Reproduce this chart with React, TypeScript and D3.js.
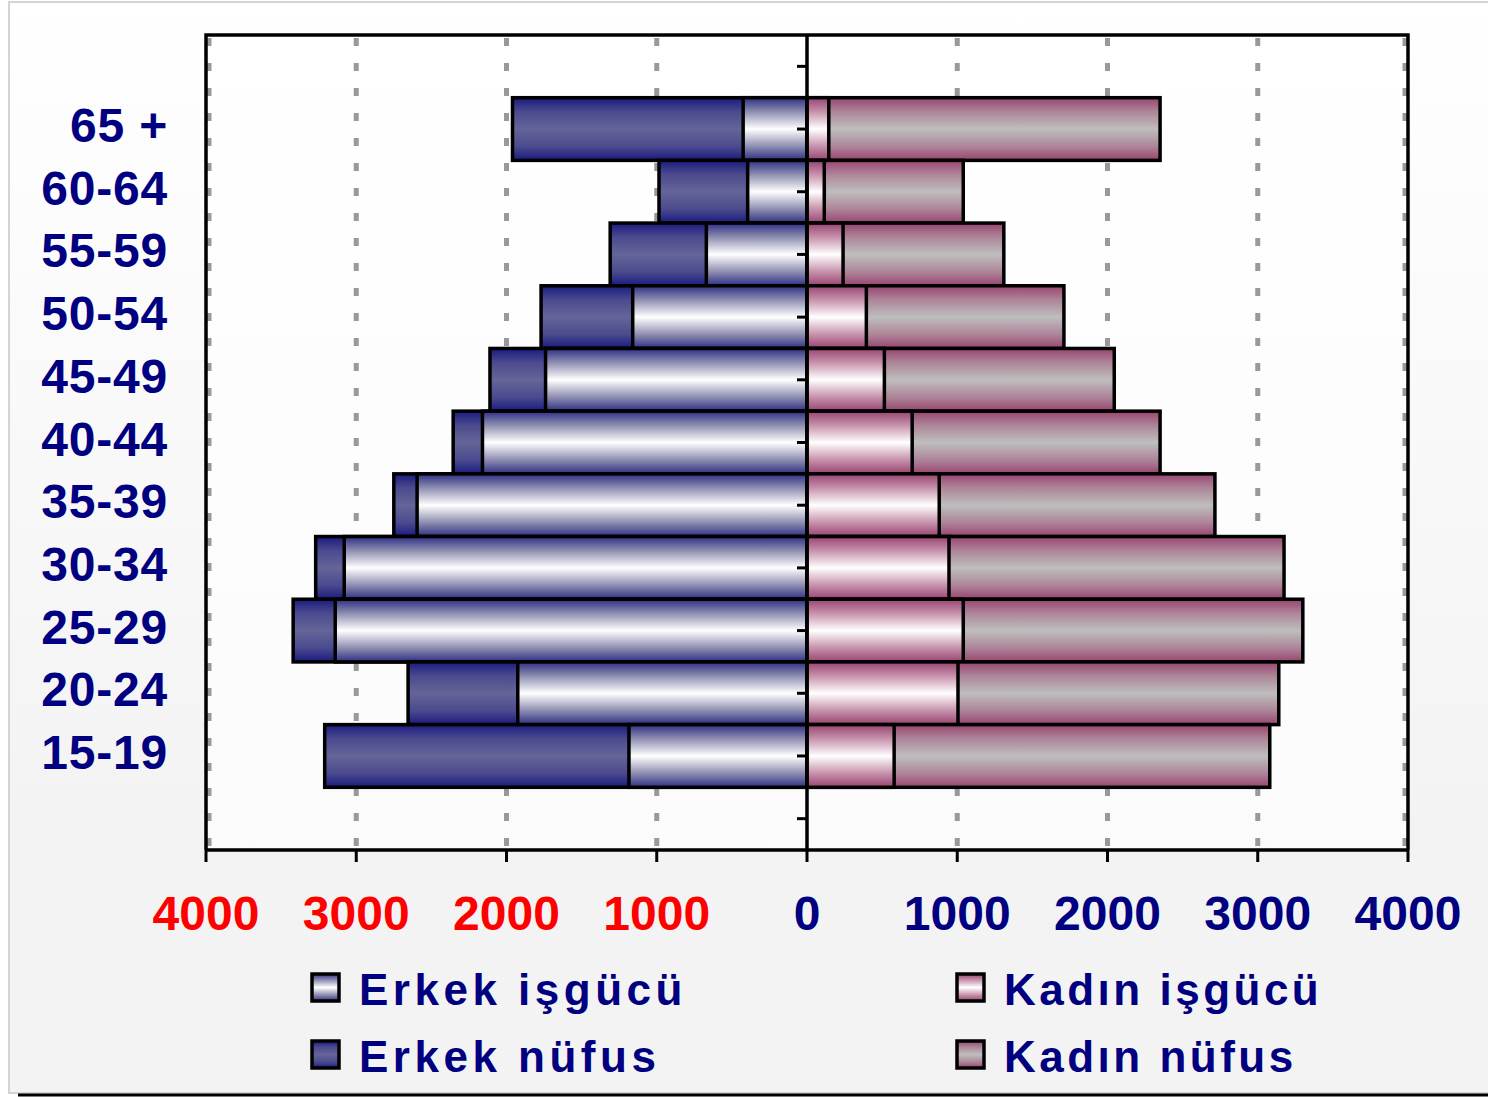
import React from "react";
import * as d3 from "d3";

// age groups, top to bottom
const categories = ["65 +", "60-64", "55-59", "50-54", "45-49", "40-44", "35-39", "30-34", "25-29", "20-24", "15-19"];

// values (thousands)
const erkekNufus = [1960, 985, 1310, 1770, 2110, 2355, 2750, 3270, 3420, 2655, 3210];
const erkekIsgucu = [425, 395, 670, 1160, 1740, 2160, 2595, 3080, 3140, 1925, 1185];
const kadinNufus = [2350, 1040, 1310, 1710, 2045, 2350, 2715, 3175, 3300, 3140, 3080];
const kadinIsgucu = [145, 115, 240, 395, 515, 700, 880, 945, 1040, 1005, 580];

const tickValues = [-4000, -3000, -2000, -1000, 0, 1000, 2000, 3000, 4000];

const legendItems = [
  { label: "Erkek işgücü", fill: "url(#gErkekIs)", col: 0, row: 0 },
  { label: "Erkek nüfus", fill: "url(#gErkekNuf)", col: 0, row: 1 },
  { label: "Kadın işgücü", fill: "url(#gKadinIs)", col: 1, row: 0 },
  { label: "Kadın nüfus", fill: "url(#gKadinNuf)", col: 1, row: 1 },
];

const W = 1488;
const H = 1097;
const font = "'Liberation Sans', Arial, sans-serif";
const navy = "#000080";

export default function App() {
  let margin = { left: 206, right: 80, top: 35, bottom: 247 };
  let plotBottom = H - margin.bottom;
  let plotRight = W - margin.right;

  let x = d3.scaleLinear().domain([-4000, 4000]).range([margin.left, plotRight]);

  // one empty band above and below, as in the original
  let yDomain = ["_top", ...categories, "_bottom"];
  let y = d3.scaleBand().domain(yDomain).range([margin.top, plotBottom]).padding(0);
  let bw = y.bandwidth();

  let rows = categories.map((c, i) => ({
    cat: c,
    en: erkekNufus[i],
    ei: erkekIsgucu[i],
    kn: kadinNufus[i],
    ki: kadinIsgucu[i],
  }));

  let bar = (key: string, v0: number, v1: number, cat: string, fill: string) => (
    <rect
      key={key}
      x={x(Math.min(v0, v1))}
      y={y(cat)}
      width={Math.abs(x(v1) - x(v0))}
      height={bw}
      fill={fill}
      stroke="#000"
      strokeWidth={3.5}
    />
  );

  let grad = (id: string, edge: string, mid1: string, center: string) => (
    <linearGradient id={id} x1="0" y1="0" x2="0" y2="1">
      <stop offset="0" stopColor={edge} />
      <stop offset="0.22" stopColor={mid1} />
      <stop offset="0.5" stopColor={center} />
      <stop offset="0.78" stopColor={mid1} />
      <stop offset="1" stopColor={edge} />
    </linearGradient>
  );

  return (
    <svg
      width={W}
      height={H}
      style={{ position: "absolute", left: 0, top: 0, display: "block" }}
      fontFamily={font}
    >
      <defs>
        <linearGradient id="gBg" x1="0" y1="0" x2="0" y2="1">
          <stop offset="0" stopColor="#ffffff" />
          <stop offset="0.75" stopColor="#f3f3f3" />
          <stop offset="1" stopColor="#f3f3f3" />
        </linearGradient>
        <linearGradient id="gPlot" x1="0" y1="0" x2="0" y2="1">
          <stop offset="0" stopColor="#ffffff" />
          <stop offset="1" stopColor="#fbfbfb" />
        </linearGradient>
        {grad("gErkekNuf", "#1a1a80", "#4a4a8e", "#656599")}
        {grad("gErkekIs", "#2e2e86", "#8c8cb0", "#ffffff")}
        {grad("gKadinNuf", "#984470", "#ad8498", "#bebebe")}
        {grad("gKadinIs", "#984470", "#c690aa", "#ffffff")}
      </defs>

      {/* page frame */}
      <rect x={9} y={2} width={W} height={1091} fill="url(#gBg)" stroke="#d4d4d4" strokeWidth={2} />
      <line x1={18} x2={W} y1={1095} y2={1095} stroke="#000" strokeWidth={3} />

      {/* plot area */}
      <rect x={margin.left} y={margin.top} width={plotRight - margin.left} height={plotBottom - margin.top} fill="url(#gPlot)" />

      {/* dotted grid */}
      {tickValues
        .filter((t) => t !== 0)
        .map((t) => (
          <line
            key={"g" + t}
            x1={x(t) + (t === -4000 ? 3 : t === 4000 ? -3 : 0)}
            x2={x(t) + (t === -4000 ? 3 : t === 4000 ? -3 : 0)}
            y1={margin.top + 3}
            y2={plotBottom}
            stroke="#999"
            strokeWidth={5}
            strokeDasharray="8,17"
          />
        ))}

      {/* bars */}
      {rows.map((d) => (
        <g key={d.cat}>
          {bar("en", 0, -d.en, d.cat, "url(#gErkekNuf)")}
          {bar("ei", 0, -d.ei, d.cat, "url(#gErkekIs)")}
          {bar("kn", 0, d.kn, d.cat, "url(#gKadinNuf)")}
          {bar("ki", 0, d.ki, d.cat, "url(#gKadinIs)")}
        </g>
      ))}

      {/* plot border */}
      <path
        d={`M${margin.left},${plotBottom} V${margin.top} H${plotRight} V${plotBottom}`}
        fill="none"
        stroke="#000"
        strokeWidth={3.5}
      />

      {/* centre axis with ticks */}
      <line x1={x(0)} x2={x(0)} y1={margin.top} y2={plotBottom} stroke="#000" strokeWidth={3.5} />
      {yDomain.map((c) => (
        <line
          key={"t" + c}
          x1={x(0) - 10}
          x2={x(0)}
          y1={(y(c) as number) + bw / 2}
          y2={(y(c) as number) + bw / 2}
          stroke="#000"
          strokeWidth={3}
        />
      ))}

      {/* bottom axis */}
      <line x1={margin.left} x2={plotRight} y1={plotBottom} y2={plotBottom} stroke="#000" strokeWidth={3.5} />
      {tickValues.map((t) => (
        <g key={"bx" + t}>
          <line x1={x(t)} x2={x(t)} y1={plotBottom} y2={plotBottom + 12} stroke="#000" strokeWidth={3} />
          <text
            x={x(t)}
            y={930}
            textAnchor="middle"
            fontSize={48}
            fontWeight="bold"
            fill={t < 0 ? "#ff0000" : navy}
          >
            {Math.abs(t)}
          </text>
        </g>
      ))}

      {/* category labels */}
      {categories.map((c) => (
        <text
          key={"l" + c}
          x={168}
          y={(y(c) as number) + bw / 2 + 13}
          textAnchor="end"
          fontSize={48}
          fontWeight="bold"
          fill={navy}
          letterSpacing={0.8}
        >
          {c}
        </text>
      ))}

      {/* legend */}
      {legendItems.map((l) => {
        let lx = l.col === 0 ? 312 : 957;
        let ly = l.row === 0 ? 974 : 1041;
        return (
          <g key={l.label}>
            <rect x={lx} y={ly} width={27} height={27} fill={l.fill} stroke="#000" strokeWidth={3.5} />
            <text
              x={lx + 47}
              y={ly + 31}
              fontSize={44}
              fontWeight="bold"
              fill={navy}
              letterSpacing={l.col === 0 ? 4.5 : 3.5}
            >
              {l.label}
            </text>
          </g>
        );
      })}
    </svg>
  );
}
